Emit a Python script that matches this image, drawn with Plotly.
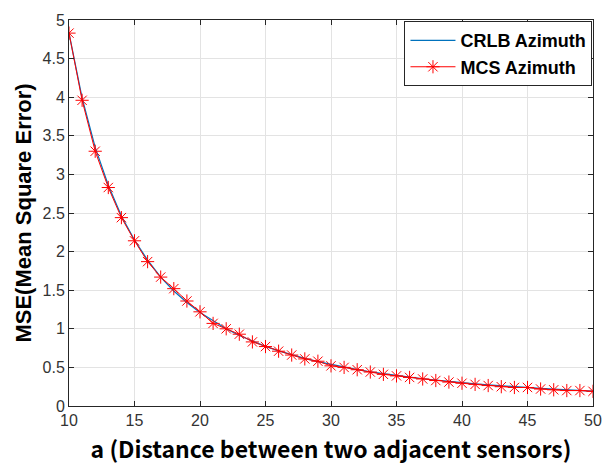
import plotly.graph_objects as go

a_vals = list(range(10, 51))

crlb_azimuth = [4.83, 3.99, 3.35, 2.86, 2.46, 2.15, 1.89, 1.67, 1.49, 1.34,
                1.21, 1.10, 1.00, 0.913, 0.839, 0.773, 0.714, 0.663, 0.616, 0.574,
                0.537, 0.503, 0.472, 0.444, 0.418, 0.394, 0.373, 0.353, 0.335, 0.318,
                0.302, 0.287, 0.274, 0.261, 0.249, 0.239, 0.228, 0.219, 0.210, 0.201,
                0.193]

mcs_azimuth = [4.83, 3.96, 3.30, 2.83, 2.44, 2.14, 1.87, 1.67, 1.52, 1.36,
               1.22, 1.07, 1.00, 0.93, 0.83, 0.77, 0.71, 0.66, 0.61, 0.58,
               0.52, 0.50, 0.47, 0.44, 0.41, 0.39, 0.37, 0.35, 0.33, 0.31,
               0.295, 0.28, 0.265, 0.25, 0.24, 0.24, 0.22, 0.21, 0.20, 0.20,
               0.19]

x_ticks = [10, 15, 20, 25, 30, 35, 40, 45, 50]
y_ticks = [0, 0.5, 1, 1.5, 2, 2.5, 3, 3.5, 4, 4.5, 5]
y_tick_text = ["0", "0.5", "1", "1.5", "2", "2.5", "3", "3.5", "4", "4.5", "5"]

fig = go.Figure()
fig.add_trace(go.Scatter(
    x=a_vals, y=crlb_azimuth, mode="lines", name="CRLB Azimuth",
    line=dict(color="#0072BD", width=1.2),
))
fig.add_trace(go.Scatter(
    x=a_vals, y=mcs_azimuth, mode="lines+markers", name="MCS Azimuth",
    line=dict(color="#FF0000", width=1),
    marker=dict(symbol="asterisk-open", size=11, color="#FF0000",
                line=dict(color="#FF0000", width=1)),
))

axis_color = "#262626"
fig.update_layout(
    width=610, height=465,
    margin=dict(l=69, r=17, t=14, b=59),
    paper_bgcolor="white", plot_bgcolor="white",
    font=dict(family="Liberation Sans, Arial, sans-serif", color=axis_color),
    showlegend=True,
    legend=dict(
        x=0.999, xanchor="right", y=0.997, yanchor="top",
        bgcolor="white", bordercolor=axis_color, borderwidth=1,
        font=dict(family="Liberation Sans, Arial, sans-serif", size=18,
                  color="black", weight="bold"),
        itemwidth=45, tracegroupgap=0,
    ),
    xaxis=dict(
        range=[10, 50], tickvals=x_ticks, ticktext=[str(v) for v in x_ticks],
        showgrid=True, gridcolor="#E3E3E3", gridwidth=1,
        showline=True, linecolor=axis_color, linewidth=1, mirror="ticks",
        ticks="inside", ticklen=5, tickcolor=axis_color,
        tickfont=dict(size=16, color="#333333"),
        zeroline=False, automargin=False,
        title=dict(text="a (Distance between two adjacent sensors)",
                   font=dict(family="Noto Sans CJK KR, Noto Sans, sans-serif",
                             size=23, color="black", weight="bold")),
    ),
    yaxis=dict(
        range=[0, 5], tickvals=y_ticks, ticktext=y_tick_text,
        showgrid=True, gridcolor="#E3E3E3", gridwidth=1,
        showline=True, linecolor=axis_color, linewidth=1, mirror="ticks",
        ticks="inside", ticklen=5, tickcolor=axis_color,
        tickfont=dict(size=16, color="#333333"),
        zeroline=False, automargin=True,
        title=dict(text="MSE(Mean Square Error)",
                   font=dict(family="Liberation Sans, Arial, sans-serif",
                             size=22, color="black", weight="bold"),
                   standoff=4),
    ),
)

fig.write_html("out.html")
